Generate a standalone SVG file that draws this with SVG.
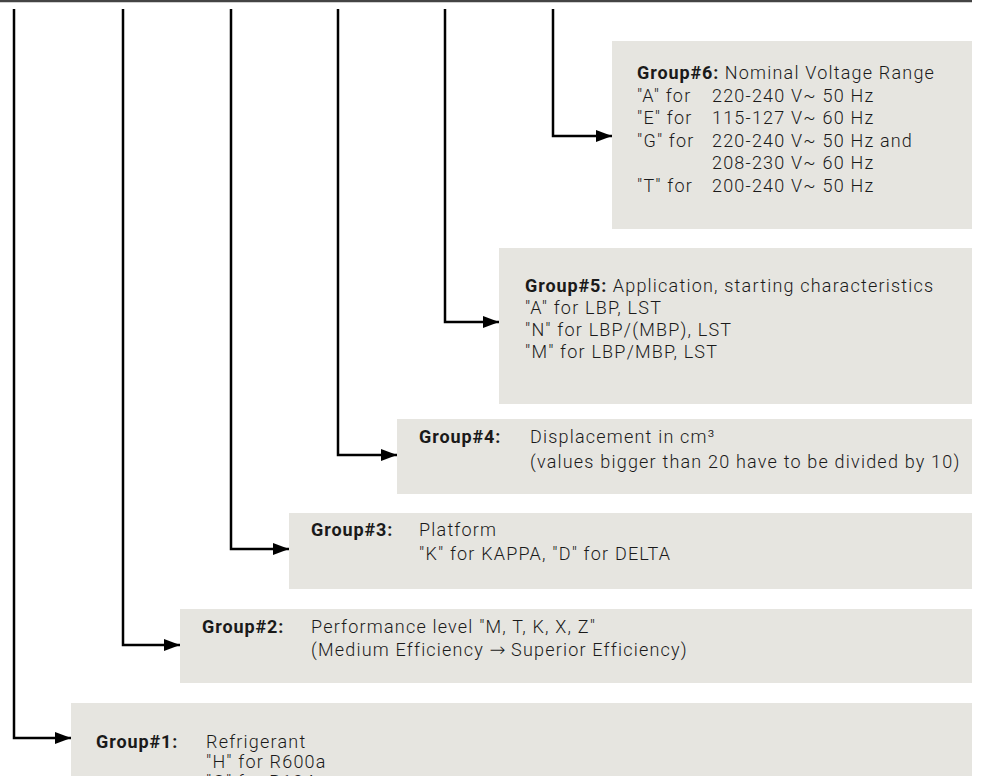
<svg xmlns="http://www.w3.org/2000/svg" width="986" height="776" viewBox="0 0 986 776">
<style>
.box{fill:#e6e5e0}
.t{font-family:Roboto,"Liberation Sans",sans-serif;font-size:18px;letter-spacing:1.2px;fill:#1a1a1a;font-weight:300}
.b{font-weight:700;letter-spacing:0.9px}
.ar{font-family:"DejaVu Sans",sans-serif;font-size:19px;letter-spacing:0}
.c{fill:none;stroke:#000;stroke-width:2.5}
</style>
<defs>
<marker id="ah" viewBox="0 0 16 12" refX="16" refY="6" markerWidth="16" markerHeight="12" markerUnits="userSpaceOnUse" orient="auto">
<path d="M0,0 L16,6 L0,12 Z" fill="#000"/>
</marker>
</defs>
<line x1="0" y1="1" x2="972" y2="1" stroke="#444" stroke-width="2.5"/>
<g id="group6">
<rect class="box" x="612" y="41" width="360" height="188"/>
<text class="t" x="637" y="79"><tspan class="b">Group#6:</tspan> Nominal Voltage Range</text>
<text class="t" x="637" y="102">"A" for</text><text class="t" x="712" y="102">220-240 V~ 50 Hz</text>
<text class="t" x="637" y="124">"E" for</text><text class="t" x="712" y="124">115-127 V~ 60 Hz</text>
<text class="t" x="637" y="147">"G" for</text><text class="t" x="712" y="147">220-240 V~ 50 Hz and</text>
<text class="t" x="712" y="169">208-230 V~ 60 Hz</text>
<text class="t" x="637" y="192">"T" for</text><text class="t" x="712" y="192">200-240 V~ 50 Hz</text>
</g>
<g id="group5">
<rect class="box" x="499" y="248" width="473" height="156"/>
<text class="t" x="525" y="292"><tspan class="b">Group#5:</tspan> Application, starting characteristics</text>
<text class="t" x="525" y="314">"A" for LBP, LST</text>
<text class="t" x="525" y="336">"N" for LBP/(MBP), LST</text>
<text class="t" x="525" y="358">"M" for LBP/MBP, LST</text>
</g>
<g id="group4">
<rect class="box" x="397" y="419" width="575" height="75"/>
<text class="t b" x="419" y="443">Group#4:</text>
<text class="t" x="530" y="443">Displacement in cm³</text>
<text class="t" x="530" y="468">(values bigger than 20 have to be divided by 10)</text>
</g>
<g id="group3">
<rect class="box" x="289" y="513" width="683" height="76"/>
<text class="t b" x="311" y="536">Group#3:</text>
<text class="t" x="419" y="536">Platform</text>
<text class="t" x="419" y="560">"K" for KAPPA, "D" for DELTA</text>
</g>
<g id="group2">
<rect class="box" x="180" y="609" width="792" height="74"/>
<text class="t b" x="202" y="633">Group#2:</text>
<text class="t" x="311" y="633">Performance level "M, T, K, X, Z"</text>
<text class="t" x="311" y="656">(Medium Efficiency <tspan class="ar">→</tspan> Superior Efficiency)</text>
</g>
<g id="group1">
<rect class="box" x="71" y="703" width="901" height="73"/>
<text class="t b" x="96" y="748">Group#1:</text>
<text class="t" x="206" y="748">Refrigerant</text>
<text class="t" x="206" y="768">"H" for R600a</text>
<text class="t" x="206" y="788">"G" for R134a</text>
</g>
<g id="connectors">
<path class="c" d="M14,9 V738 H71" marker-end="url(#ah)"/>
<path class="c" d="M123,9 V645 H180" marker-end="url(#ah)"/>
<path class="c" d="M231,9 V549 H289" marker-end="url(#ah)"/>
<path class="c" d="M338,9 V455 H397" marker-end="url(#ah)"/>
<path class="c" d="M445,9 V322 H499" marker-end="url(#ah)"/>
<path class="c" d="M553,9 V136 H612" marker-end="url(#ah)"/>
</g>
</svg>
